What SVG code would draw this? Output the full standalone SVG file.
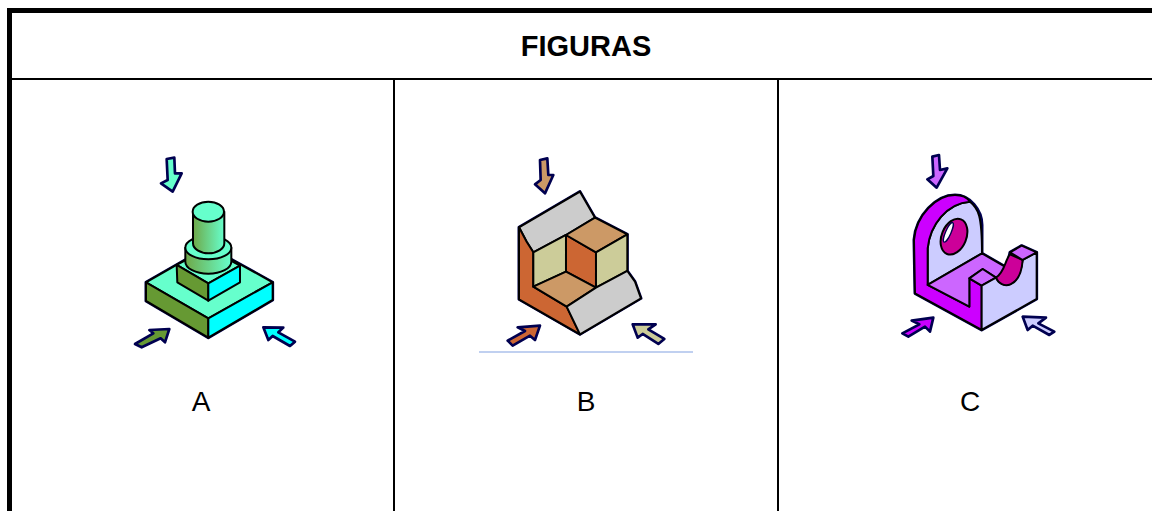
<svg xmlns="http://www.w3.org/2000/svg" width="1152" height="511" viewBox="0 0 1152 511">
<style>
text{font-family:"Liberation Sans",Arial,sans-serif;fill:#000;text-anchor:middle}
.head{font-size:29px;font-weight:bold}
.label{font-size:28px}
.e{stroke:#000;stroke-width:6;stroke-linejoin:round}
.o{fill:none;stroke:#000050;stroke-width:9;stroke-linejoin:round}
.a{stroke:#000050;stroke-width:8;stroke-linejoin:round}
</style>
<defs>
<linearGradient id="cyl" x1="0" x2="1" y1="0" y2="0"><stop offset="0" stop-color="#6fa848"/><stop offset="1" stop-color="#66ffcc"/></linearGradient>
</defs>
<rect width="1152" height="511" fill="#fff"/>
<g id="table" fill="#000">
<rect x="7" y="8" width="1145" height="5"/>
<rect x="7" y="8" width="5" height="503"/>
<rect x="12" y="78" width="1140" height="2"/>
<rect x="393" y="80" width="2" height="431"/>
<rect x="777" y="80" width="2" height="431"/>
</g>
<g id="title"><text class="head" x="586" y="56">FIGURAS</text></g>

<g id="figure-a">
<g transform="translate(120 145) scale(.3333)">
<path class="a" fill="#66ffcc" d="M140,42 163,38 165,85 185,85 158,140 123,115 143,105Z"/>
<path class="a" fill="#669933" d="M45,597 100,565 88,555 148,552 135,592 122,580 65,607Z"/>
<path class="a" fill="#00ffff" d="M430,547 490,548 475,562 525,590 510,603 458,573 445,585Z"/>
<path class="o" d="M78,412 265,305 458,412 458,465 265,578 78,468Z"/>
<path class="e" fill="#66ffcc" d="M78,412 265,305 458,412 265,520Z"/>
<path class="e" fill="#669933" d="M78,412 265,520 265,578 78,468Z"/>
<path class="e" fill="#00ffff" d="M265,520 458,412 458,465 265,578Z"/>
<path class="e" fill="#66ffcc" d="M170,360 265,310 360,362 265,415Z"/>
<path class="e" fill="#669933" d="M170,360 265,415 265,467 172,412Z"/>
<path class="e" fill="#00ffff" d="M265,415 360,362 360,412 265,467Z"/>
<path class="e" fill="url(#cyl)" d="M196,308 V350 A69,36 0 0 0 334,350 V308Z"/>
<ellipse class="e" fill="#66ffcc" cx="265" cy="308" rx="69" ry="35"/>
<path class="e" fill="url(#cyl)" d="M219,200 V295 A47,30 0 0 0 313,295 V200Z"/>
<ellipse class="e" fill="#66ffcc" cx="265" cy="200" rx="47" ry="30"/>
</g>
<text class="label" x="201" y="411">A</text>
</g>

<g id="figure-b">
<g transform="translate(470 145) scale(.3333)">
<path class="a" fill="#cc9966" d="M210,45 232,40 235,90 250,90 225,145 195,118 212,105Z"/>
<path class="a" fill="#cc6633" d="M113,587 165,558 143,547 210,542 195,585 180,572 128,602Z"/>
<path class="a" fill="#cccc99" d="M488,538 557,538 535,553 583,582 565,597 518,567 503,578Z"/>
<path class="o" d="M147,247 330,140 375,218 472,268 472,378 495,410 513,460 330,568 147,463Z"/>
<path class="e" fill="#cccccc" d="M147,247 330,140 375,218 288,270 190,322 170,290Z"/>
<path class="e" fill="#cc6633" d="M147,247 170,290 190,322 190,425 290,485 330,568 147,463Z"/>
<path class="e" fill="#cccc99" d="M190,322 288,270 288,380 190,425Z"/>
<path class="e" fill="#cc6633" d="M288,270 378,322 378,428 288,380Z"/>
<path class="e" fill="#cc9966" d="M288,270 375,218 472,268 378,322Z"/>
<path class="e" fill="#cccc99" d="M378,322 472,268 472,378 378,428Z"/>
<path class="e" fill="#cc9966" d="M190,425 288,380 378,428 290,485Z"/>
<path class="e" fill="#cccccc" d="M290,485 378,428 472,378 495,410 513,460 330,568Z"/>
</g>
<rect x="479" y="351" width="214" height="2" fill="#c0d0f0"/>
<text class="label" x="586" y="411">B</text>
</g>

<g id="figure-c">
<g transform="translate(890 145) scale(.3333)">
<path class="a" fill="#cc66ff" d="M127,35 147,30 150,75 172,70 140,128 112,103 130,93Z"/>
<path class="a" fill="#cc00ff" d="M37,565 88,538 65,527 130,518 120,560 105,545 55,575Z"/>
<path class="a" fill="#ccccff" d="M398,515 468,518 445,535 493,560 478,570 428,542 413,555Z"/>
<path class="o" d="M75,445 72,285 C78,210 140,150 195,150 C240,150 276,195 276,240 L276,325 350,368 360,322 395,302 440,322 440,462 275,555Z"/>
<path class="e" fill="#ccccff" d="M113,420 113,310 C120,240 170,175 240,170 C265,190 276,210 276,325Z"/>
<path class="e" fill="#cc00ff" d="M75,445 72,285 C78,210 140,150 195,150 C215,150 232,158 240,170 C170,175 120,240 113,310 L113,420 238,485 238,400 275,422 275,555Z"/>
<path class="e" fill="#cc66ff" d="M113,420 276,325 350,368 C340,385 332,395 318,398 L278,372 238,400 238,485Z"/>
<path class="e" fill="#cc66ff" d="M238,400 278,372 318,398 275,422Z"/>
<path class="e" fill="#ccccff" d="M275,422 318,398 C335,432 385,435 398,345 L440,322 440,462 275,555Z"/>
<path class="e" fill="#cc0099" d="M360,328 C345,345 345,380 318,398 C332,435 392,432 398,345Z"/>
<path class="e" fill="#cc66ff" d="M360,322 395,302 440,322 398,345Z"/>
<ellipse class="e" fill="#cc0099" cx="192" cy="275" rx="37" ry="56" transform="rotate(22 192 275)"/>
<ellipse fill="#fff" stroke="#000050" stroke-width="4" cx="175" cy="262" rx="8" ry="32" transform="rotate(24 175 262)"/>
</g>
<text class="label" x="970" y="411">C</text>
</g>
</svg>
